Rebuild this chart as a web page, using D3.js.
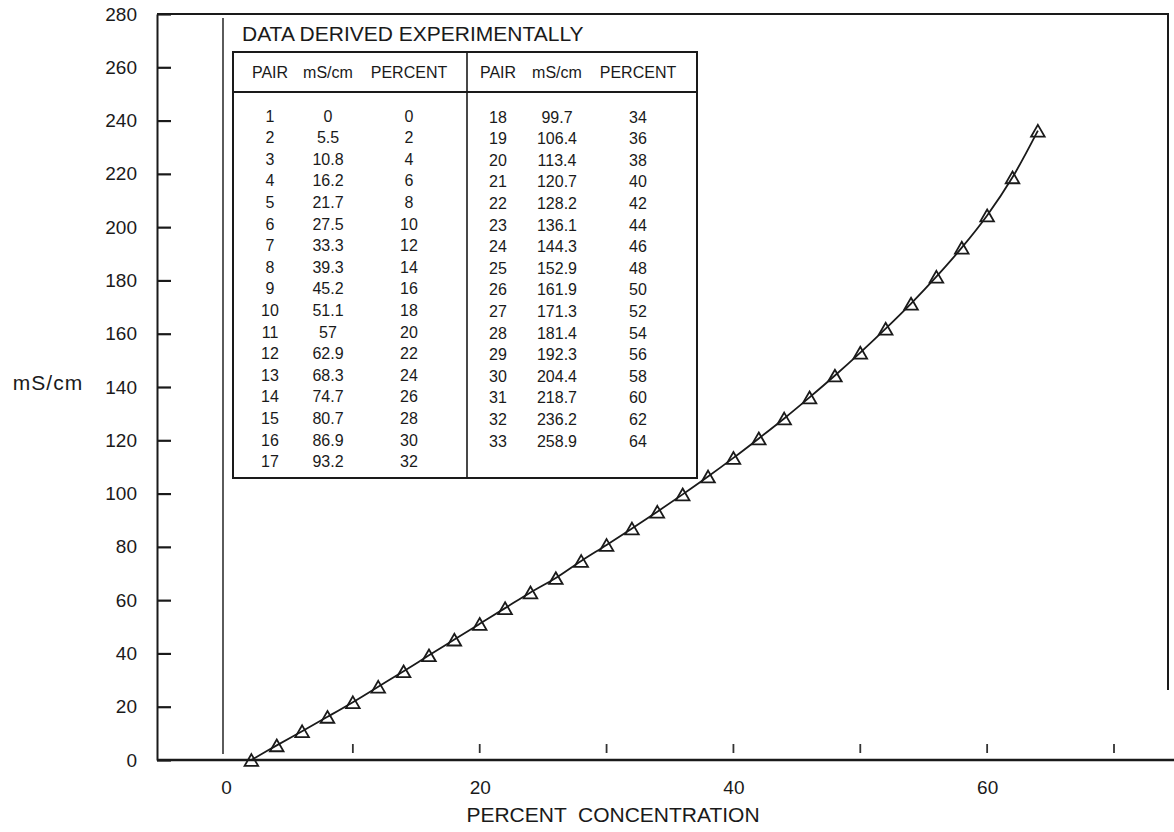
<!DOCTYPE html>
<html>
<head>
<meta charset="utf-8">
<script src="https://cdn.jsdelivr.net/npm/d3@7"></script>
<style>
  body { margin: 0; background: #fff; }
  svg { font-family: "Liberation Sans", Arial, sans-serif; }
</style>
</head>
<body>
<svg id="chart" width="1174" height="832"></svg>
<script>
// table values (as printed in the inset)
const pairs   = d3.range(1, 34);
const mScm    = [0, 5.5, 10.8, 16.2, 21.7, 27.5, 33.3, 39.3, 45.2, 51.1, 57, 62.9, 68.3, 74.7, 80.7, 86.9, 93.2,
                 99.7, 106.4, 113.4, 120.7, 128.2, 136.1, 144.3, 152.9, 161.9, 171.3, 181.4, 192.3, 204.4, 218.7, 236.2, 258.9];
const percent = [0, 2, 4, 6, 8, 10, 12, 14, 16, 18, 20, 22, 24, 26, 28, 30, 32,
                 34, 36, 38, 40, 42, 44, 46, 48, 50, 52, 54, 56, 58, 60, 62, 64];

// points as they are plotted on the graph
const plotX = [2, 4, 6, 8, 10, 12, 14, 16, 18, 20, 22, 24, 26, 28, 30, 32,
               34, 36, 38, 40, 42, 44, 46, 48, 50, 52, 54, 56, 58, 60, 62, 64];
const plotY = [0, 5.5, 10.8, 16.2, 21.7, 27.5, 33.3, 39.3, 45.2, 51.1, 57, 62.9, 68.3, 74.7, 80.7, 86.9,
               93.2, 99.7, 106.4, 113.4, 120.7, 128.2, 136.1, 144.3, 152.9, 161.9, 171.3, 181.4, 192.3, 204.4, 218.7, 236.2];

const yTicks = d3.range(0, 281, 20);
const xLabels = [0, 20, 40, 60];
const xMarks = [10, 20, 30, 40, 50, 60, 70];

const ink = '#1a1a1a';
const svg = d3.select('#chart');
const x = d3.scaleLinear().domain([0, 70]).range([226, 1114]);
const y = d3.scaleLinear().domain([0, 280]).range([760, 14]);
const axisLeftX = 157;

// frame
svg.append('path')
    .attr('d', `M${axisLeftX},${y(280)}H1168V690`)
    .attr('fill', 'none').attr('stroke', ink).attr('stroke-width', 2);
svg.append('line')
    .attr('x1', axisLeftX).attr('x2', 1174)
    .attr('y1', y(0)).attr('y2', y(0))
    .attr('stroke', ink).attr('stroke-width', 2.5);

// y axis
const yAxis = svg.append('g')
    .attr('transform', `translate(${axisLeftX},0)`)
    .call(d3.axisLeft(y).tickValues(yTicks).tickSizeInner(-14).tickSizeOuter(0).tickPadding(20));
yAxis.select('.domain').attr('stroke', ink).attr('stroke-width', 2);
yAxis.selectAll('.tick line').attr('stroke', ink).attr('stroke-width', 2.2);
yAxis.selectAll('.tick text')
    .attr('font-size', 19).attr('fill', ink)
    .style('font-family', '"Liberation Sans", Arial, sans-serif');

// x axis labels
const xAxis = svg.append('g')
    .attr('transform', `translate(0,${y(0)})`)
    .call(d3.axisBottom(x).tickValues(xLabels).tickSize(0).tickPadding(21));
xAxis.select('.domain').remove();
xAxis.selectAll('.tick text')
    .attr('font-size', 19).attr('fill', ink)
    .style('font-family', '"Liberation Sans", Arial, sans-serif');

// small tick marks above the axis
svg.append('g').selectAll('line')
    .data(xMarks).join('line')
    .attr('x1', d => x(d)).attr('x2', d => x(d))
    .attr('y1', y(0) - 16).attr('y2', y(0) - 7)
    .attr('stroke', '#333').attr('stroke-width', 1.8);

// vertical line at 0 %
svg.append('line')
    .attr('x1', x(0) - 3).attr('x2', x(0) - 3)
    .attr('y1', 18).attr('y2', 754)
    .attr('stroke', '#333').attr('stroke-width', 1.6);

// axis titles
svg.append('text')
    .attr('x', 48).attr('y', 383).attr('dy', '0.35em')
    .attr('text-anchor', 'middle').attr('font-size', 21).attr('fill', ink)
    .attr('letter-spacing', 1)
    .text('mS/cm');
svg.append('text')
    .attr('x', 613).attr('y', 822)
    .attr('text-anchor', 'middle').attr('font-size', 21).attr('fill', ink)
    .style('white-space', 'pre')
    .text('PERCENT  CONCENTRATION');

// curve + markers
const pts = plotX.map((d, i) => [d, plotY[i]]);
svg.append('path')
    .datum(pts)
    .attr('fill', 'none').attr('stroke', ink).attr('stroke-width', 1.8)
    .attr('d', d3.line().x(d => x(d[0])).y(d => y(d[1])).curve(d3.curveCatmullRom));

svg.append('g').selectAll('path')
    .data(pts).join('path')
    .attr('transform', d => `translate(${x(d[0])},${y(d[1]) + 2})`)
    .attr('d', d3.symbol(d3.symbolTriangle, 80))
    .attr('fill', 'none').attr('stroke', ink).attr('stroke-width', 1.8);

// inset table
const tbl = svg.append('g');
const box = { left: 233, right: 697, top: 52, bottom: 478, head: 92, mid: 467 };
tbl.append('text')
    .attr('x', 242).attr('y', 41)
    .attr('font-size', 21).attr('fill', ink)
    .text('DATA DERIVED EXPERIMENTALLY');
tbl.append('rect')
    .attr('x', box.left).attr('y', box.top)
    .attr('width', box.right - box.left).attr('height', box.bottom - box.top)
    .attr('fill', 'none').attr('stroke', ink).attr('stroke-width', 2);
tbl.append('line')
    .attr('x1', box.left).attr('x2', box.right).attr('y1', box.head).attr('y2', box.head)
    .attr('stroke', ink).attr('stroke-width', 2);
tbl.append('line')
    .attr('x1', box.mid).attr('x2', box.mid).attr('y1', box.top).attr('y2', box.bottom)
    .attr('stroke', ink).attr('stroke-width', 1.6);

const headers = ['PAIR', 'mS/cm', 'PERCENT'];
const colX = [[270, 328, 409], [498, 557, 638]];
colX.forEach(cols => {
    cols.forEach((cx, j) => {
        tbl.append('text')
            .attr('x', cx).attr('y', 72).attr('dy', '0.35em')
            .attr('text-anchor', 'middle').attr('font-size', 16).attr('fill', ink)
            .text(headers[j]);
    });
});

const rowY = i => 116 + i * 21.6;
pairs.forEach((p, i) => {
    const side = i < 17 ? 0 : 1;
    const r = side ? i - 17 : i;
    const vals = [p, mScm[i], percent[i]];
    vals.forEach((v, j) => {
        tbl.append('text')
            .attr('x', colX[side][j]).attr('y', rowY(r) + side).attr('dy', '0.35em')
            .attr('text-anchor', 'middle').attr('font-size', 16).attr('fill', ink)
            .text(v);
    });
});
</script>
</body>
</html>
